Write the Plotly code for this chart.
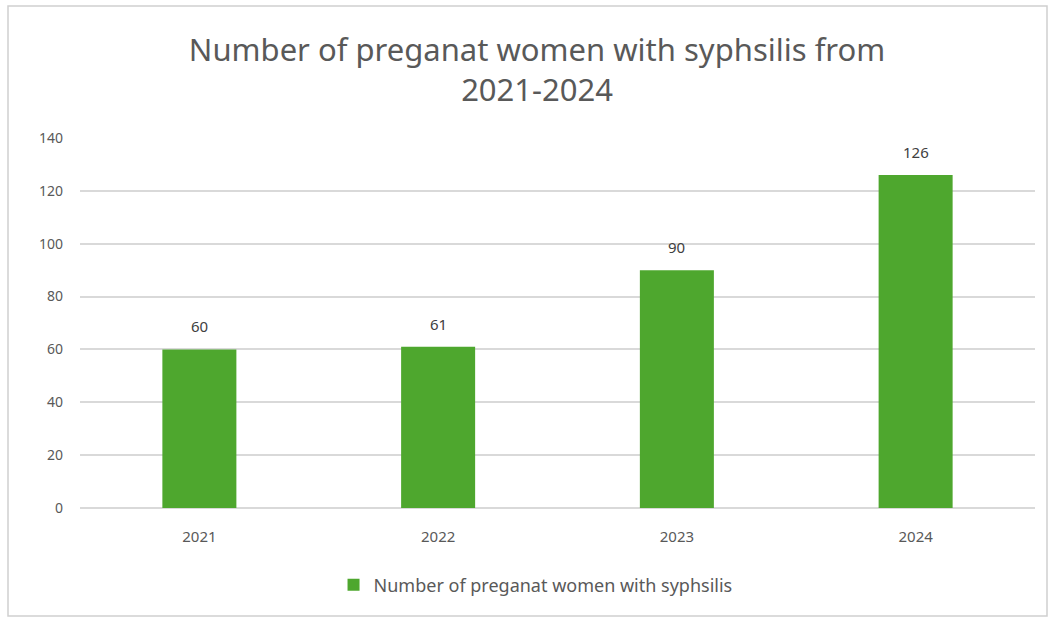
import plotly.graph_objects as go

years = ["2021", "2022", "2023", "2024"]
cases = [60, 61, 90, 126]
series_name = "Number of preganat women with syphsilis"
title_text = "Number of preganat women with syphsilis from<br>2021-2024"

L, R, T, B = 80, 16, 138, 111
W, H = 1051, 619
pw, ph = W - L - R, H - T - B

def px_x(px):
    return (px - L) / pw

def px_y(py):
    return (H - B - py) / ph

fig = go.Figure()
fig.add_trace(go.Bar(
    x=years, y=cases, name=series_name,
    marker=dict(color="#4EA72E", line=dict(width=0)),
))

for i, v in enumerate(cases):
    fig.add_annotation(x=i, y=v, xref="x", yref="y", text=str(v), showarrow=False,
                       yanchor="middle", yshift=23, font=dict(size=15, color="#404040"))

fig.update_layout(
    width=W, height=H,
    margin=dict(l=L, r=R, t=T, b=B),
    paper_bgcolor="white", plot_bgcolor="white",
    font=dict(family="Noto Sans, Open Sans, sans-serif", color="#595959"),
    title=dict(text=title_text, x=0.511, xanchor="center", y=1 - 61 / H, yanchor="middle",
               font=dict(size=31, color="#595959")),
    bargap=0.69,
    showlegend=True,
    legend=dict(orientation="h", x=0.477, xanchor="center", y=px_y(585), yanchor="middle",
                font=dict(size=18, color="#595959"), itemwidth=30),
    xaxis=dict(type="category", range=[-0.5, 3.5], showgrid=False, showline=False, ticks="",
               tickfont=dict(size=15, color="#595959"), ticklabelstandoff=18),
    yaxis=dict(range=[0, 140], dtick=20, showgrid=True, gridcolor="#D9D9D9", gridwidth=1.5,
               zeroline=True, zerolinecolor="#D9D9D9", zerolinewidth=1.5,
               showline=False, ticks="", tickfont=dict(size=14, color="#595959"),
               ticklabelstandoff=16),
    shapes=[dict(type="rect", xref="paper", yref="paper",
                 x0=px_x(8), x1=px_x(1047), y0=px_y(616), y1=px_y(6),
                 line=dict(color="#D0D0D0", width=1.5), fillcolor="rgba(0,0,0,0)", layer="below")],
)

fig.write_html("out.html")
